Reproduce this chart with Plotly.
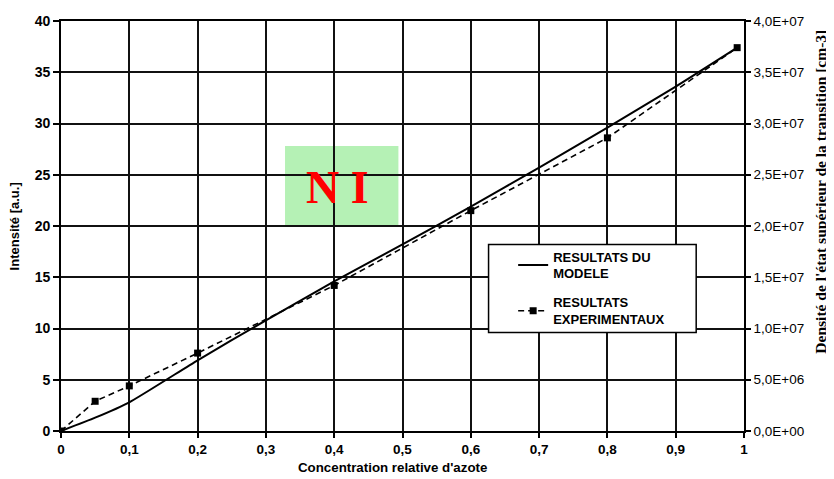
import plotly.graph_objects as go

# Data
model_x = [0, 0.05, 0.1, 0.2, 0.3, 0.4, 0.5, 0.6, 0.7, 0.8, 0.9, 0.99]
model_y = [0, 1.3, 2.8, 6.9, 10.8, 14.6, 18.2, 21.9, 25.7, 29.6, 33.6, 37.4]
exp_x = [0, 0.05, 0.1, 0.2, 0.4, 0.6, 0.8, 0.99]
exp_y = [0, 2.9, 4.4, 7.6, 14.2, 21.5, 28.6, 37.4]

x_ticks = [0, 0.1, 0.2, 0.3, 0.4, 0.5, 0.6, 0.7, 0.8, 0.9, 1]
x_ticktext = ["0", "0,1", "0,2", "0,3", "0,4", "0,5", "0,6", "0,7", "0,8", "0,9", "1"]
y_ticks = [0, 5, 10, 15, 20, 25, 30, 35, 40]
y2_ticks = [0, 5e6, 1e7, 1.5e7, 2e7, 2.5e7, 3e7, 3.5e7, 4e7]
y2_ticktext = ["0,0E+00", "5,0E+06", "1,0E+07", "1,5E+07", "2,0E+07",
               "2,5E+07", "3,0E+07", "3,5E+07", "4,0E+07"]
y2_range = [0, 4e7]

SANS = "Liberation Sans, Arial, sans-serif"
SERIF = "Liberation Serif, Times New Roman, serif"

fig = go.Figure()
fig.add_trace(go.Scatter(
    x=model_x, y=model_y, mode="lines", name="RESULTATS DU<br>MODELE",
    legendgroup="a",
    line=dict(color="black", width=2, shape="spline", smoothing=0.5),
))
fig.add_trace(go.Scatter(
    x=exp_x, y=exp_y, mode="lines+markers", name="RESULTATS<br>EXPERIMENTAUX",
    legendgroup="b",
    line=dict(color="black", width=1.6, dash="6px,4px"),
    marker=dict(symbol="square", size=7, color="black"),
))
# invisible helper so the right-hand axis is rendered
fig.add_trace(go.Scatter(
    x=[0, 1], y=y2_range, yaxis="y2", mode="markers",
    marker=dict(opacity=0), showlegend=False, hoverinfo="skip",
))

# page body has an 8px margin: figure is 8px smaller and shifted
fig.update_layout(
    width=826, height=471,
    margin=dict(l=53, r=90, t=13, b=48),
    paper_bgcolor="white", plot_bgcolor="white",
    showlegend=True,
    legend=dict(
        x=0.662, y=0.462, xanchor="left", yanchor="top",
        bgcolor="rgba(0,0,0,0)", borderwidth=0,
        font=dict(family=SANS, size=13, color="black", weight="bold"),
        tracegroupgap=9,
    ),
    xaxis=dict(
        range=[0, 1], tickvals=x_ticks, ticktext=x_ticktext,
        showgrid=True, gridcolor="#111", gridwidth=1.6,
        showline=True, linecolor="black", linewidth=1.6, mirror=True,
        ticks="outside", ticklen=5, tickcolor="black", tickwidth=1.5,
        tickfont=dict(family=SANS, size=13.5, color="black", weight="bold"),
        zeroline=False, automargin=False,
    ),
    yaxis=dict(
        range=[0, 40], tickvals=y_ticks,
        showgrid=True, gridcolor="#111", gridwidth=1.6,
        showline=True, linecolor="black", linewidth=1.6,
        ticks="outside", ticklen=6, tickcolor="black", tickwidth=1.5,
        tickfont=dict(family=SANS, size=14, color="black", weight="bold"),
        zeroline=False, automargin=False,
    ),
    yaxis2=dict(
        range=y2_range, tickvals=y2_ticks, ticktext=y2_ticktext,
        overlaying="y", side="right", showgrid=False,
        showline=True, linecolor="black", linewidth=1.6,
        ticks="outside", ticklen=5, tickcolor="black", tickwidth=1.5,
        tickfont=dict(family=SANS, size=13.5, color="black"),
        zeroline=False, automargin=False,
    ),
)

# Legend box
fig.add_shape(type="rect", xref="x", yref="y", x0=0.626, x1=0.93, y0=9.6, y1=18.2,
              line=dict(color="black", width=1.5), fillcolor="white", layer="above")
# NI box
fig.add_shape(type="rect", xref="x", yref="y", x0=0.328, x1=0.494, y0=20.1, y1=27.8,
              line=dict(width=0), fillcolor="rgba(150,235,150,0.7)", layer="below")
fig.add_annotation(x=0.405, y=23.8, xref="x", yref="y", text="<b>N I</b>", showarrow=False,
                   font=dict(family=SERIF, size=46, color="red"))

# Axis titles
fig.add_annotation(x=-0.068, y=0.498, xref="paper", yref="paper", text="<b>Intensité [a.u.]</b>",
                   textangle=-90, showarrow=False, xanchor="center", yanchor="middle",
                   font=dict(family=SANS, size=13, color="black"))
fig.add_annotation(x=0.485, y=-0.088, xref="paper", yref="paper",
                   text="<b>Concentration relative d'azote</b>", showarrow=False,
                   xanchor="center", yanchor="middle",
                   font=dict(family=SANS, size=13.3, color="black"))
fig.add_annotation(x=1.112, y=0.585, xref="paper", yref="paper",
                   text="<b>Densité de l'état supérieur de la transition [cm-3]</b>",
                   textangle=-90, showarrow=False, xanchor="center", yanchor="middle",
                   font=dict(family=SERIF, size=15.5, color="black"))

fig.write_html("out.html")
